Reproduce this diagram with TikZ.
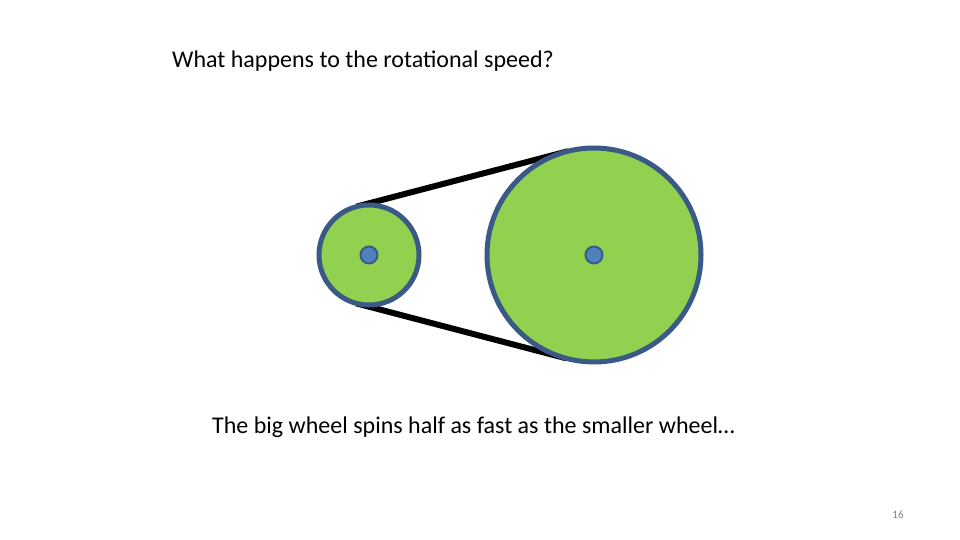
\documentclass[tikz,border=0pt]{standalone}
\usepackage{fontspec}
\setmainfont{Carlito}
\definecolor{wheelfill}{RGB}{146,208,80}
\definecolor{wheeledge}{RGB}{59,89,135}
\definecolor{hubfill}{RGB}{79,129,189}
\begin{document}
\begin{tikzpicture}[x=1pt,y=-1pt,
  wheel/.style={circle,draw=wheeledge,fill=wheelfill,line width=5pt,inner sep=0pt,outer sep=0pt},
  hub/.style={circle,draw=wheeledge,fill=hubfill,line width=2pt,minimum size=17pt,inner sep=0pt},
  belt/.style={line width=6pt,black},
  txt/.style={inner sep=0pt,anchor=base west,font=\fontsize{24}{28}\selectfont}]
\useasboundingbox (0,0) rectangle (960,540);
\coordinate (sc) at (369,255);
\coordinate (bc) at (594,255);
\path (sc) node[minimum size=100pt,circle,inner sep=0pt,outer sep=0pt] (sg) {};
\path (bc) node[minimum size=214pt,circle,inner sep=0pt,outer sep=0pt] (bg) {};
\draw[belt] (sg.104.7) -- (bg.104.7);
\draw[belt] (sg.255.3) -- (bg.255.3);
\node[wheel,minimum size=100pt] (small) at (sc) {};
\node[wheel,minimum size=214pt] (big) at (bc) {};
\node[hub] (h1) at (sc) {};
\node[hub] (h2) at (bc) {};
\node[txt] (q) at (172,68) {What happens to the rotational speed?};
\node[txt] (a) at (212,433) {The big wheel spins half as fast as the smaller wheel…};
\node[inner sep=0pt,anchor=base,font=\fontsize{11}{13}\selectfont,text=gray] (n) at (898,518) {16};
\end{tikzpicture}
\end{document}
